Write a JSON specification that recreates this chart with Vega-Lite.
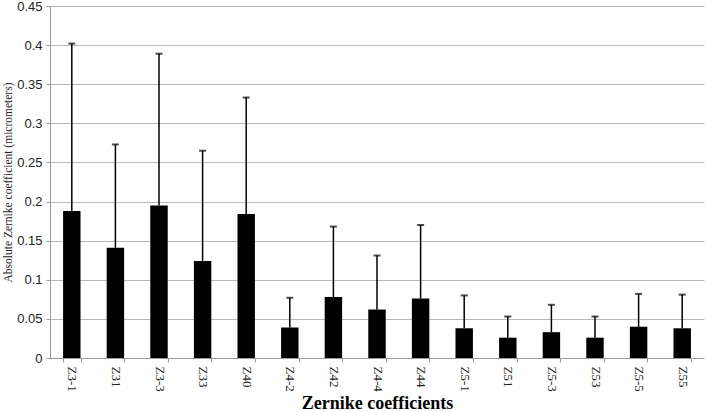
{
  "$schema": "https://vega.github.io/schema/vega-lite/v6.json",
  "width": 654,
  "height": 352,
  "autosize": {"type": "none"},
  "padding": {"left": 50, "top": 6, "right": 2, "bottom": 54},
  "background": "white",
  "config": {"view": {"stroke": null}, "font": "Liberation Serif, serif"},
  "data": {"values": [
    {"coef": "Z3-1", "value": 0.188, "upper": 0.402},
    {"coef": "Z31", "value": 0.141, "upper": 0.273},
    {"coef": "Z3-3", "value": 0.195, "upper": 0.389},
    {"coef": "Z33", "value": 0.124, "upper": 0.265},
    {"coef": "Z40", "value": 0.184, "upper": 0.333},
    {"coef": "Z4-2", "value": 0.039, "upper": 0.077},
    {"coef": "Z42", "value": 0.078, "upper": 0.168},
    {"coef": "Z4-4", "value": 0.062, "upper": 0.131},
    {"coef": "Z44", "value": 0.076, "upper": 0.170},
    {"coef": "Z5-1", "value": 0.038, "upper": 0.080},
    {"coef": "Z51", "value": 0.026, "upper": 0.053},
    {"coef": "Z5-3", "value": 0.033, "upper": 0.068},
    {"coef": "Z53", "value": 0.026, "upper": 0.053},
    {"coef": "Z5-5", "value": 0.040, "upper": 0.082},
    {"coef": "Z55", "value": 0.038, "upper": 0.081}
  ]},
  "encoding": {
    "x": {
      "field": "coef", "type": "nominal", "sort": null,
      "scale": {"paddingInner": 0.6, "paddingOuter": 0.3},
      "axis": {
        "title": "Zernike coefficients",
        "titleFont": "Liberation Serif, serif", "titleFontSize": 18, "titleFontWeight": "bold", "titleColor": "black",
        "titleBaseline": "alphabetic", "titleY": 50,
        "labelAngle": 90, "labelFont": "Liberation Serif, serif", "labelFontSize": 13, "labelColor": "#222",
        "labelPadding": 4,
        "tickBand": "extent", "tickSize": 4, "tickColor": "#999",
        "domainColor": "#999", "grid": false
      }
    },
    "y": {
      "field": "value", "type": "quantitative",
      "scale": {"domain": [0, 0.45], "nice": false},
      "axis": {
        "title": "Absolute Zernike coefficient (micrometers)",
        "titleFont": "Liberation Serif, serif", "titleFontSize": 11.5, "titleFontWeight": "normal", "titleColor": "#222",
        "titlePadding": 3,
        "values": [0, 0.05, 0.1, 0.15, 0.2, 0.25, 0.3, 0.35, 0.4, 0.45],
        "format": ".2~f",
        "labelFont": "Liberation Sans, sans-serif", "labelFontSize": 13, "labelColor": "#222", "labelPadding": 4,
        "tickSize": 4, "tickColor": "#999",
        "domainColor": "#999",
        "grid": true, "gridColor": "#b8b8b8", "gridWidth": 1.2
      }
    }
  },
  "layer": [
    {
      "mark": {"type": "bar", "color": "black"}
    },
    {
      "mark": {"type": "rule", "color": "black", "strokeWidth": 1.5},
      "encoding": {
        "y2": {"field": "upper"}
      }
    },
    {
      "mark": {"type": "tick", "color": "black", "thickness": 2, "size": 7},
      "encoding": {
        "y": {"field": "upper", "type": "quantitative"}
      }
    }
  ]
}
